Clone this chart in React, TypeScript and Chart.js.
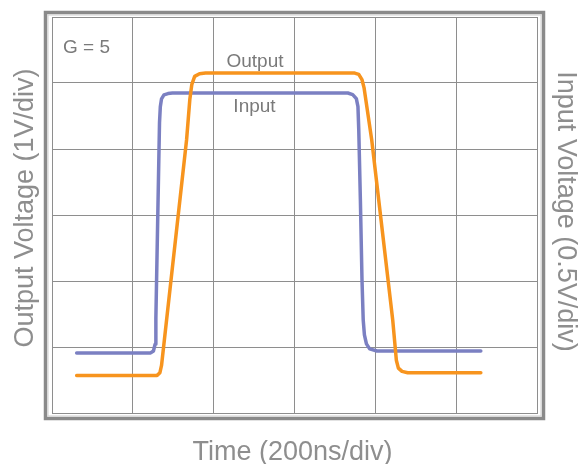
import React, { useEffect, useRef } from "react";
import { Chart, registerables } from "chart.js";

Chart.register(...registerables);

// Time axis in ns (200 ns/div), output in V (1 V/div), input in V (0.5 V/div)
const timeTicks = [0, 200, 400, 600, 800, 1000, 1200];

const outputTime = [61, 260, 267, 271, 333, 341, 346, 353, 365, 380, 749, 759, 767, 772, 791, 843, 852, 857, 866, 880, 1061];
const outputVolts = [0.57, 0.57, 0.61, 0.72, 4.14, 4.75, 4.98, 5.1, 5.14, 5.15, 5.15, 5.13, 5.05, 4.93, 4.14, 1.41, 0.8, 0.68, 0.63, 0.61, 0.61];

const inputTime = [61, 244, 251, 255, 257, 266, 268, 271, 277, 287, 298, 732, 744, 753, 757, 759, 763, 767, 770, 773, 778, 786, 804, 1061];
const inputVolts = [0.455, 0.455, 0.47, 0.52, 0.72, 2.2, 2.32, 2.38, 2.41, 2.42, 2.424, 2.424, 2.412, 2.382, 2.321, 2.147, 1.616, 1.009, 0.706, 0.592, 0.524, 0.486, 0.47, 0.47];

const xTitle = "Time (200ns/div)";
const yTitle = "Output Voltage (1V/div)";
const y2Title = "Input Voltage (0.5V/div)";
const gainLabel = "G = 5";
const outputLabel = "Output";
const inputLabel = "Input";

const FONT = "'Liberation Sans', Arial, Helvetica, sans-serif";

const decorPlugin = {
  id: "decor",
  afterDraw(chart: any) {
    const ctx = chart.ctx;
    const a = chart.chartArea;
    ctx.save();
    // outer frame
    ctx.strokeStyle = "#8a8a8a";
    ctx.lineWidth = 3.5;
    ctx.strokeRect(a.left - 6.5, a.top - 4.5, a.right - a.left + 13, a.bottom - a.top + 10);
    ctx.strokeStyle = "#cfcfcf";
    ctx.lineWidth = 1;
    ctx.strokeRect(a.left - 4, a.top - 2, a.right - a.left + 8, a.bottom - a.top + 5);

    // axis titles
    ctx.fillStyle = "#8e8e8e";
    ctx.font = `27px ${FONT}`;
    ctx.textAlign = "center";
    ctx.textBaseline = "alphabetic";
    ctx.fillText(xTitle, (a.left + a.right) / 2 - 2, 460);

    ctx.save();
    ctx.translate(32.5, 208);
    ctx.rotate(-Math.PI / 2);
    ctx.fillText(yTitle, 0, 0);
    ctx.restore();

    ctx.save();
    ctx.translate(558, 211.5);
    ctx.rotate(Math.PI / 2);
    ctx.fillText(y2Title, 0, 0);
    ctx.restore();

    // annotations
    ctx.fillStyle = "#7a7a7a";
    ctx.font = `19px ${FONT}`;
    ctx.textAlign = "left";
    ctx.fillText(gainLabel, 63, 53);
    ctx.textAlign = "center";
    ctx.fillText(outputLabel, 255, 66.5);
    ctx.fillText(inputLabel, 254.5, 112);
    ctx.restore();
  },
};

export default function App() {
  const canvasRef = useRef<HTMLCanvasElement | null>(null);

  useEffect(() => {
    const canvas = canvasRef.current;
    if (!canvas) return;
    const gridColor = "#8e8e8e";
    const chart = new Chart(canvas, {
      type: "scatter",
      data: {
        datasets: [
          {
            label: outputLabel,
            data: outputTime.map((t, i) => ({ x: t, y: outputVolts[i] })),
            yAxisID: "y",
            showLine: true,
            borderColor: "#F7941E",
            backgroundColor: "#F7941E",
            borderWidth: 3.5,
            pointRadius: 0,
            tension: 0,
            borderJoinStyle: "round",
            borderCapStyle: "round",
          },
          {
            label: inputLabel,
            data: inputTime.map((t, i) => ({ x: t, y: inputVolts[i] })),
            yAxisID: "y2",
            showLine: true,
            borderColor: "#7B80C2",
            backgroundColor: "#7B80C2",
            borderWidth: 3.5,
            pointRadius: 0,
            tension: 0,
            borderJoinStyle: "round",
            borderCapStyle: "round",
          },
        ],
      },
      options: {
        animation: false,
        responsive: false,
        maintainAspectRatio: false,
        devicePixelRatio: 1,
        layout: { padding: { left: 52, top: 17, right: 44, bottom: 51 } },
        plugins: { legend: { display: false }, tooltip: { enabled: false } },
        scales: {
          x: {
            type: "linear",
            min: timeTicks[0],
            max: timeTicks[timeTicks.length - 1],
            afterBuildTicks: (s: any) => {
              s.ticks = timeTicks.map((v) => ({ value: v }));
            },
            ticks: { display: false },
            grid: { color: gridColor, lineWidth: 1, drawTicks: false },
            border: { display: true, color: gridColor },
            title: { display: false },
          },
          y: {
            type: "linear",
            position: "left",
            min: 0,
            max: 6,
            ticks: { display: false, stepSize: 1 },
            grid: { color: gridColor, lineWidth: 1, drawTicks: false },
            border: { display: true, color: gridColor },
            title: { display: false },
          },
          y2: {
            type: "linear",
            position: "right",
            min: 0,
            max: 3,
            ticks: { display: false, stepSize: 0.5 },
            grid: { display: false, drawTicks: false },
            border: { display: true, color: gridColor },
            title: { display: false },
          },
        },
      },
      plugins: [decorPlugin],
    } as any);
    return () => chart.destroy();
  }, []);

  return (
    <div style={{ position: "fixed", left: 0, top: 0, width: 581, height: 464, background: "#fff" }}>
      <canvas ref={canvasRef} width={581} height={464} style={{ width: 581, height: 464, display: "block" }} />
    </div>
  );
}
